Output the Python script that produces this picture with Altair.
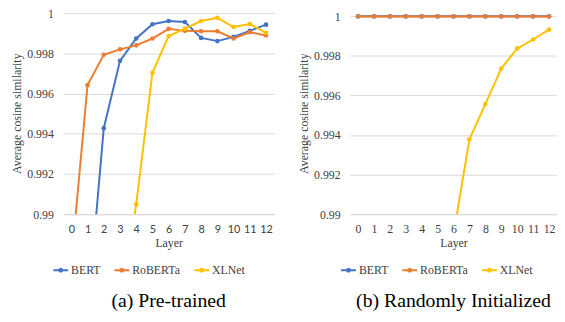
import altair as alt
import pandas as pd

layers = list(range(13))
models = ["BERT", "RoBERTa", "XLNet"]
colors = ["#4472C4", "#ED7D31", "#FFC000"]
y_ticks = [0.99, 0.992, 0.994, 0.996, 0.998, 1.0]

# (a) Pre-trained
bert_pre = [0.960, 0.985, 0.99428, 0.99763, 0.99874, 0.99945, 0.99961,
            0.99956, 0.99877, 0.99861, 0.99882, 0.99912, 0.99943]
roberta_pre = [0.9876, 0.99642, 0.99793, 0.99820, 0.99840, 0.99874, 0.99922,
               0.99912, 0.99910, 0.99910, 0.99874, 0.99905, 0.99889]
xlnet_pre = [0.950, 0.960, 0.975, 0.985, 0.99049, 0.99703, 0.99886,
             0.99923, 0.99961, 0.99977, 0.99931, 0.99946, 0.99902]

# (b) Randomly Initialized
bert_rand = [0.99999, 0.99999, 0.99999, 0.99999, 0.99999, 0.99999, 0.99999,
             0.99999, 0.99999, 0.99999, 0.99999, 0.99999, 0.99999]
roberta_rand = [0.99998, 0.99998, 0.99998, 0.99998, 0.99998, 0.99998, 0.99998,
                0.99998, 0.99998, 0.99998, 0.99998, 0.99998, 0.99998]
xlnet_rand = [0.950, 0.955, 0.960, 0.965, 0.970, 0.980, 0.98899,
              0.99378, 0.99556, 0.99735, 0.99837, 0.99882, 0.99932]

SERIF = "Liberation Serif"
SANS = "Lato"
SYMBOL = "M-1,0H1M-0.2,0A0.2,0.2,0,1,0,0.2,0A0.2,0.2,0,1,0,-0.2,0Z"


def make_df(series):
    rows = []
    for m, vals in zip(models, series):
        for l, v in zip(layers, vals):
            rows.append({"Layer": l, "Model": m, "value": v})
    return pd.DataFrame(rows)


def panel(series, caption, xfont, xsize, legend_x, width, ytop):
    df = make_df(series)
    x = alt.X(
        "Layer:O",
        scale=alt.Scale(type="point", padding=0.5),
        axis=alt.Axis(labelAngle=0, ticks=False, domain=True,
                      domainColor="#D9D9D9", domainWidth=1,
                      labelFont=xfont, labelFontSize=xsize, labelColor="#404040",
                      labelPadding=10, title="Layer", titleFont=SERIF,
                      titleFontSize=12, titleFontWeight="normal",
                      titleColor="#404040", titlePadding=3),
    )
    y = alt.Y(
        "value:Q",
        scale=alt.Scale(domain=[0.99, ytop], nice=False, zero=False),
        axis=alt.Axis(values=y_ticks, format="~f", grid=True,
                      gridColor="#D9D9D9", gridWidth=1, domain=False,
                      ticks=False, labelPadding=10, labelFont=SERIF,
                      labelFontSize=12, labelColor="#404040",
                      title="Average cosine similarity", titleFont=SERIF,
                      titleFontSize=12, titleFontWeight="normal",
                      titleColor="#404040", titlePadding=3),
    )
    legend = alt.Legend(orient="none", legendX=legend_x, legendY=253,
                        direction="horizontal", title=None,
                        symbolType=SYMBOL, symbolSize=225,
                        symbolStrokeWidth=2, labelFont=SERIF,
                        labelFontSize=12, labelColor="#404040",
                        columnPadding=10, labelOffset=2)
    color = alt.Color("Model:N", scale=alt.Scale(domain=models, range=colors),
                      legend=legend)
    fill = alt.Fill("Model:N", scale=alt.Scale(domain=models, range=colors),
                    legend=None)
    line = alt.Chart(df).mark_line(clip=True, strokeWidth=2).encode(
        x=x, y=y, color=color)
    pts = alt.Chart(df).transform_filter("datum.value >= 0.99").mark_point(
        filled=True, size=22, opacity=1).encode(x=x, y=y, fill=fill)
    return alt.layer(line, pts).properties(
        width=width, height=205,
        title=alt.TitleParams(caption, orient="bottom", anchor="middle",
                              font=SERIF, fontSize=20, fontWeight="normal",
                              color="#000000", offset=15),
    )


left = panel([bert_pre, roberta_pre, xlnet_pre], "(a)  Pre-trained",
             SANS, 11, -11, 214, 1.00005)
right = panel([bert_rand, roberta_rand, xlnet_rand],
              "(b)  Randomly Initialized", SERIF, 12, -10, 210, 1.0002)

chart = alt.hconcat(left, right, spacing=24).resolve_legend(
    color="independent", fill="independent").resolve_scale(
    color="independent", fill="independent").properties(
    padding={"left": 3, "top": -3, "right": 0, "bottom": 0}
).configure(font=SERIF).configure_view(stroke=None)

chart.save("out.html", embed_options={"renderer": "svg", "actions": False})
